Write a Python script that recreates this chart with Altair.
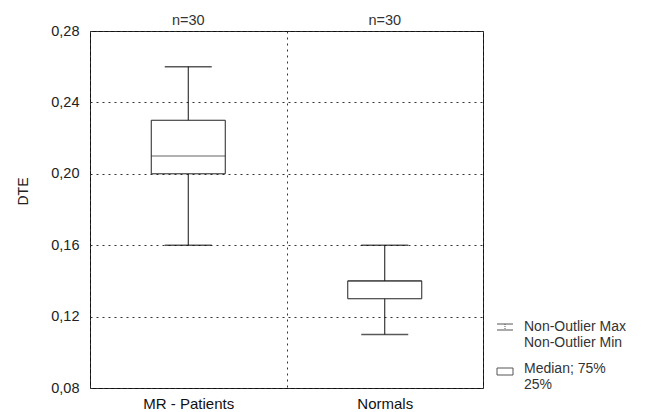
import altair as alt
import pandas as pd

categories = ["MR - Patients", "Normals"]
mins = [0.16, 0.11]
q1s = [0.20, 0.13]
medians = [0.21, 0.14]
q3s = [0.23, 0.14]
maxs = [0.26, 0.16]
n_labels = ["n=30", "n=30"]
y_ticks = [0.08, 0.12, 0.16, 0.20, 0.24, 0.28]

df = pd.DataFrame({
    "cat": categories, "min": mins, "q1": q1s, "med": medians,
    "q3": q3s, "max": maxs, "n": n_labels,
})

FONT = "Liberation Sans"
yscale = alt.Scale(domain=[0.08, 0.28], nice=False, zero=False)

base = alt.Chart(df).encode(
    x=alt.X("cat:N", sort=categories, title=None,
            scale=alt.Scale(paddingInner=0, paddingOuter=0),
            axis=alt.Axis(labelAngle=0, ticks=False, domain=False, grid=True,
                          tickBand="extent", gridDash=[2, 4], gridColor="#333",
                          labelFont=FONT, labelFontSize=15, labelColor="#111",
                          labelPadding=8)),
)

whisker = base.mark_rule(color="#111", strokeWidth=1).encode(
    y=alt.Y("min:Q", scale=yscale, title="DTE",
            axis=alt.Axis(values=y_ticks, ticks=False, domain=False, grid=True,
                          gridDash=[2, 4], gridColor="#333",
                          labelExpr="replace(format(datum.value, '.2f'), '.', ',')",
                          labelFont=FONT, labelFontSize=14.5, labelColor="#222",
                          labelPadding=11, titleFont=FONT, titleFontSize=14,
                          titleFontWeight="normal", titleColor="#222",
                          titleX=-67, titleY=160, titleAngle=-90,
                          titleBaseline="middle", titleAlign="center")),
    y2="max:Q",
)
cap_top = base.mark_tick(color="#111", size=47, thickness=1.5, orient="horizontal").encode(
    y=alt.Y("max:Q", scale=yscale))
cap_bot = base.mark_tick(color="#111", size=47, thickness=1.5, orient="horizontal").encode(
    y=alt.Y("min:Q", scale=yscale))
box = base.mark_bar(size=74, fill="white", stroke="#222", strokeWidth=1).encode(
    y=alt.Y("q1:Q", scale=yscale), y2="q3:Q")
median = base.mark_tick(color="#222", size=74, thickness=1, orient="horizontal").encode(
    y=alt.Y("med:Q", scale=yscale))
ntext = base.mark_text(font=FONT, fontSize=14.5, color="#333", baseline="alphabetic").encode(
    y=alt.value(-6), text="n:N")

leg = alt.Chart(pd.DataFrame({"a": [0]}))
lx0, lx1 = 407, 423
leg_w1 = leg.mark_rule(color="#555", strokeWidth=1).encode(
    x=alt.value(lx0), x2=alt.value(lx1), y=alt.value(293))
leg_w2 = leg.mark_rule(color="#555", strokeWidth=1).encode(
    x=alt.value(lx0), x2=alt.value(lx1), y=alt.value(299))
leg_w3 = leg.mark_rule(color="#555", strokeWidth=1, strokeDash=[1, 1]).encode(
    x=alt.value(415), y=alt.value(293), y2=alt.value(299))
leg_box = leg.mark_rect(fill="white", stroke="#555", strokeWidth=1).encode(
    x=alt.value(lx0), x2=alt.value(lx1), y=alt.value(337), y2=alt.value(344))
leg_t1 = leg.mark_text(font=FONT, fontSize=14, color="#333", align="left",
                       baseline="middle", lineBreak="\n", lineHeight=16).encode(
    x=alt.value(434), y=alt.value(296), text=alt.value("Non-Outlier Max\nNon-Outlier Min"))
leg_t2 = leg.mark_text(font=FONT, fontSize=14, color="#333", align="left",
                       baseline="middle", lineBreak="\n", lineHeight=16).encode(
    x=alt.value(434), y=alt.value(338), text=alt.value("Median; 75%\n25%"))

chart = alt.layer(
    whisker, cap_top, cap_bot, box, median, ntext,
    leg_w1, leg_w2, leg_w3, leg_box, leg_t1, leg_t2,
).properties(
    width=393, height=357,
    autosize=alt.AutoSizeParams(type="none"),
    padding={"left": 82, "top": 23, "right": 150, "bottom": 30},
    background="white",
).configure_view(stroke="#111", strokeWidth=1)

chart.save("out.html", embed_options={"renderer": "svg", "actions": False})
